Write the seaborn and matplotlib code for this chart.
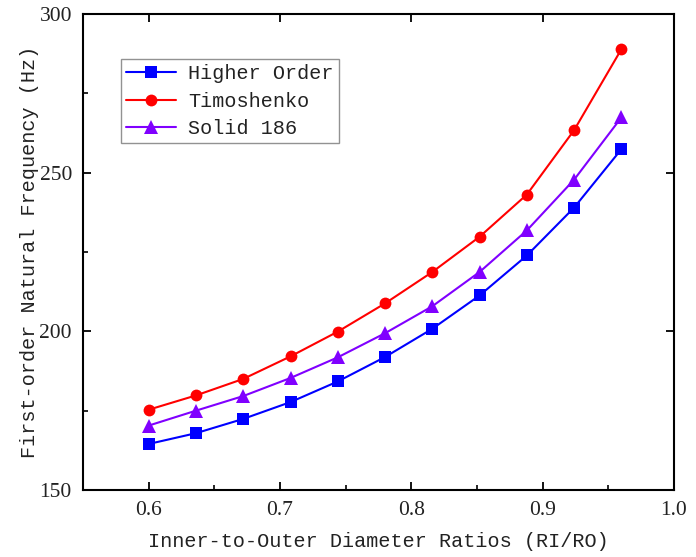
import matplotlib
matplotlib.use("Agg")
import matplotlib.pyplot as plt
import seaborn as sns
import pandas as pd
import numpy as np
from matplotlib.ticker import MultipleLocator, FuncFormatter

ratios = [0.600, 0.636, 0.672, 0.708, 0.744, 0.780, 0.816, 0.852, 0.888, 0.924, 0.960]
higher_order = [164.5, 167.9, 172.4, 177.7, 184.2, 191.9, 200.8, 211.3, 223.9, 239.0, 257.4]
timoshenko = [175.3, 179.8, 185.0, 192.1, 199.9, 208.8, 218.7, 229.8, 243.1, 263.4, 288.9]
solid186 = [170.3, 175.0, 179.6, 185.3, 191.8, 199.4, 207.9, 218.7, 231.8, 247.8, 267.4]
series_names = ["Higher Order", "Timoshenko", "Solid 186"]

df = pd.DataFrame({
    "ratio": ratios * 3,
    "freq": higher_order + timoshenko + solid186,
    "model": [series_names[0]] * len(ratios) + [series_names[1]] * len(ratios) + [series_names[2]] * len(ratios),
})

sns.set_theme(style="white")
plt.rcParams["font.family"] = ["Liberation Mono", "DejaVu Sans"]

fig = plt.figure(figsize=(6.96, 5.57), dpi=100)
ax = fig.add_axes([0.1193, 0.1203, 0.849, 0.8546])

palette = {"Higher Order": "#0000FF", "Timoshenko": "#FF0000", "Solid 186": "#8000FF"}
markers = {"Higher Order": "s", "Timoshenko": "o", "Solid 186": "^"}
sns.lineplot(data=df, x="ratio", y="freq", hue="model", style="model",
             palette=palette, markers=markers, dashes=False, markersize=8.5,
             markeredgewidth=0, linewidth=1.5, ax=ax, hue_order=series_names,
             style_order=series_names)
for ln in ax.lines:
    if ln.get_marker() == "^":
        ln.set_markersize(10)

ax.set_xlim(0.55, 1.0)
ax.set_ylim(150, 300)
ax.xaxis.set_major_locator(MultipleLocator(0.1))
ax.xaxis.set_minor_locator(MultipleLocator(0.05))
ax.yaxis.set_major_locator(MultipleLocator(50))
ax.yaxis.set_minor_locator(MultipleLocator(25))
ax.xaxis.set_major_formatter(FuncFormatter(lambda v, p: f"{v:.1f}"))
ax.yaxis.set_major_formatter(FuncFormatter(lambda v, p: f"{v:.0f}"))

for s in ax.spines.values():
    s.set_color("black")
    s.set_linewidth(1.5)

ax.tick_params(which="major", direction="in", length=6, width=1.3, color="black",
               top=True, right=True, bottom=True, left=True, labelsize=15.5)
ax.tick_params(axis="x", which="major", pad=8)
ax.tick_params(axis="y", which="major", pad=8)
ax.tick_params(which="minor", direction="in", length=3.5, width=1.2, color="black",
               top=False, right=False, bottom=True, left=True)
for lab in ax.get_xticklabels() + ax.get_yticklabels():
    lab.set_fontfamily(["Liberation Serif", "DejaVu Serif"])
    lab.set_color("#222222")

ax.set_xlabel("Inner-to-Outer Diameter Ratios (RI/RO)", fontsize=14.5, color="#222222", labelpad=8.5)
ax.set_ylabel("First-order Natural Frequency (Hz)", fontsize=14.5, color="#222222", labelpad=0)

handles, labels = ax.get_legend_handles_labels()
leg = ax.legend(handles, labels, loc="upper left", bbox_to_anchor=(0.0643, 0.905),
                fontsize=14.5, frameon=True, fancybox=False, edgecolor="#777777",
                handlelength=2.5, handletextpad=0.6, labelspacing=0.42,
                borderpad=0.25, borderaxespad=0)
leg.get_frame().set_linewidth(1.0)
for t in leg.get_texts():
    t.set_color("#222222")

fig.savefig("out.png", dpi=100, facecolor="white")
